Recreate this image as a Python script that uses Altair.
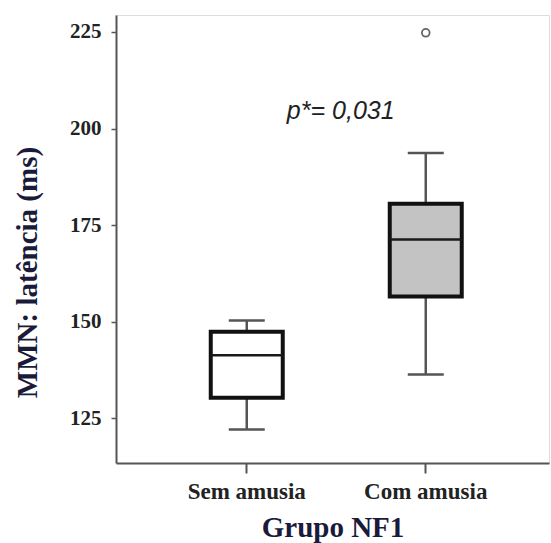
import altair as alt
import pandas as pd

groups = ["Sem amusia", "Com amusia"]
whisker_low = [122.1, 136.3]
q1 = [130.3, 156.5]
median = [141.3, 171.3]
q3 = [147.4, 180.5]
whisker_high = [150.3, 193.7]
fills = ["#ffffff", "#c3c3c3"]
outlier_group = ["Com amusia"]
outlier_value = [224.8]
annot_group = ["Com amusia"]
annot_value = [204.6]
annot_text = ["p*= 0,031"]
y_ticks = [125, 150, 175, 200, 225]

df = pd.DataFrame({"grupo": groups, "lo": whisker_low, "q1": q1, "med": median,
                   "q3": q3, "hi": whisker_high, "fill": fills})
out = pd.DataFrame({"grupo": outlier_group, "v": outlier_value})
ann = pd.DataFrame({"grupo": annot_group, "v": annot_value, "t": annot_text})

serif = "Liberation Serif"
xscale = alt.Scale(domain=groups, paddingOuter=0.2095, paddingInner=0, align=0.55)
yscale = alt.Scale(domain=[113.4, 229.4], nice=False, zero=False)

x_enc = alt.X("grupo:N", scale=xscale, sort=groups,
              axis=alt.Axis(title="Grupo NF1", labelAngle=0, labelFont=serif,
                            labelFontWeight="bold", labelFontSize=23, labelColor="#222",
                            titleFont=serif, titleFontWeight="bold", titleFontSize=29,
                            titleColor="#1a1a3a", domainColor="#555", domainWidth=2,
                            tickColor="#555", tickWidth=2, tickSize=10,
                            labelPadding=7, titlePadding=10))
y_axis = alt.Axis(title="MMN: latência (ms)", values=y_ticks, grid=False,
                  labelFont=serif, labelFontWeight="bold", labelFontSize=21,
                  labelColor="#222", titleFont=serif, titleFontWeight="bold",
                  titleFontSize=29, titleColor="#1a1a3a", domainColor="#555",
                  domainWidth=2, tickColor="#555", tickWidth=1.5, tickSize=5,
                  labelPadding=10, titleAngle=-90, titleAlign="center",
                  titleBaseline="middle", titleX=-89, titleY=257)

base = alt.Chart(df)
xg = alt.X("grupo:N", scale=xscale, sort=groups)

whisk_lo = base.mark_rule(color="#555", strokeWidth=2.5).encode(
    x=x_enc, y=alt.Y("lo:Q", scale=yscale, axis=y_axis), y2="q1:Q")
whisk_hi = base.mark_rule(color="#555", strokeWidth=2.5).encode(
    x=xg, y=alt.Y("q3:Q", scale=yscale), y2="hi:Q")
cap_lo = base.mark_tick(color="#555", thickness=2.5, size=36, orient="horizontal",
                        opacity=1).encode(x=xg, y=alt.Y("lo:Q", scale=yscale))
cap_hi = base.mark_tick(color="#555", thickness=2.5, size=36, orient="horizontal",
                        opacity=1).encode(x=xg, y=alt.Y("hi:Q", scale=yscale))
box = base.mark_bar(size=72, stroke="#111", strokeWidth=4, opacity=1).encode(
    x=xg, y=alt.Y("q1:Q", scale=yscale), y2="q3:Q",
    fill=alt.Fill("fill:N", scale=None))
med = base.mark_tick(color="#1a1a1a", thickness=2.5, size=72, orient="horizontal",
                     opacity=1).encode(x=xg, y=alt.Y("med:Q", scale=yscale))
pts = alt.Chart(out).mark_point(shape="circle", size=60, color="#666", strokeWidth=1.8,
                                filled=False, opacity=1).encode(
    x=xg, y=alt.Y("v:Q", scale=yscale))
txt = alt.Chart(ann).mark_text(font="Liberation Sans", fontStyle="italic", fontSize=25,
                               color="#222", dx=-85, align="center", baseline="middle").encode(
    x=xg, y=alt.Y("v:Q", scale=yscale), text="t:N")

chart = alt.layer(whisk_lo, whisk_hi, cap_lo, cap_hi, box, med, pts, txt).properties(
    width=433, height=448,
    autosize=alt.AutoSizeParams(type="none"),
    padding={"left": 116, "top": 15, "right": 2, "bottom": 80},
).configure_view(stroke=None).configure(background="white")

chart.save("out.html", embed_options={"renderer": "svg", "actions": False})
